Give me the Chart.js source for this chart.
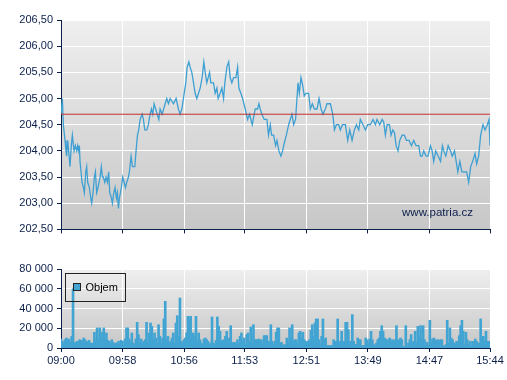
<!DOCTYPE html>
<html>
<head>
<meta charset="utf-8">
<script src="https://cdn.jsdelivr.net/npm/chart.js@4.4.1/dist/chart.umd.min.js"></script>
<style>
    body { margin: 0; background: #ffffff; }
    #wrap { position: relative; width: 507px; height: 380px; }
    .box { position: absolute; left: 0; width: 507px; }
</style>
</head>
<body>
<div id="wrap">
    <div class="box" style="top:0;height:240px"><canvas id="priceChart"></canvas></div>
    <div class="box" style="top:255px;height:125px"><canvas id="volChart"></canvas></div>
</div>
<script>
// x axis labels (times of day), price in CZK, volume in pieces
const timeLabels = ['09:00', '09:58', '10:56', '11:53', '12:51', '13:49', '14:47', '15:44'];
const prevClose = 204.70;

// minutes after 09:00
const priceTimes = [
    0, 1.3, 2.2, 3.8, 4.7, 5.3, 6.3, 7.2, 8.5, 9.7, 10.7, 12.3, 13.5, 14.8, 15.7, 16.7, 17.3, 17.9, 18.9, 19.8,
    21.1, 22.0, 23.3, 24.2, 25.1, 26.7, 28.0, 28.9, 30.2, 31.4, 32.4, 33.6, 34.9, 35.8, 36.8, 38.0, 39.0, 39.9, 41.2, 42.4,
    43.7, 44.9, 45.9, 47.5, 48.4, 49.7, 50.9, 52.2, 53.1, 54.1, 55.0, 56.9, 58.1, 59.4, 60.7, 61.9, 63.5, 64.4, 66.0, 67.3,
    69.5, 70.7, 72.0, 73.2, 74.5, 76.4, 77.6, 78.9, 80.8, 82.3, 83.9, 85.2, 86.4, 87.7, 92.1, 93.3, 95.2, 98.1, 99.6, 101.2,
    102.8, 105.9, 108.4, 110.6, 112.2, 113.8, 116.0, 117.5, 118.8, 120.4, 121.6, 123.2, 124.8, 126.3, 127.9, 129.5, 131.1, 132.9, 134.5, 135.8,
    137.3, 139.9, 141.1, 143.6, 145.2, 146.8, 148.0, 149.9, 151.5, 153.1, 154.3, 156.2, 157.9, 159.3, 160.9, 162.5, 164.7, 166.3, 167.5, 169.4,
    171.0, 173.5, 175.7, 177.6, 180.1, 182.9, 185.1, 186.4, 187.6, 189.2, 191.4, 193.9, 195.4, 197.1, 198.3, 200.2, 202.1, 203.4, 205.2, 207.1,
    208.7, 210.3, 212.2, 214.4, 215.9, 217.5, 219.1, 220.9, 222.2, 223.2, 224.4, 226.0, 227.6, 229.1, 230.7, 233.2, 234.8, 236.7, 238.6, 241.1,
    243.0, 244.9, 246.7, 248.9, 250.5, 253.7, 255.9, 257.5, 259.3, 261.5, 263.1, 265.0, 267.8, 270.0, 271.9, 274.1, 276.3, 278.2, 280.4, 281.9,
    284.4, 286.7, 288.8, 291.4, 293.9, 296.1, 297.6, 300.2, 302.4, 303.9, 305.5, 307.1, 309.3, 310.8, 312.4, 314.0, 315.6, 317.4, 319.0, 321.2,
    323.4, 325.3, 327.8, 330.0, 332.2, 334.4, 336.9, 338.5, 340.1, 341.6, 343.8, 345.7, 347.9, 349.5, 351.0, 352.9, 355.1, 357.4, 359.2, 360.5,
    362.4, 364.6, 366.8, 368.4, 370.6, 372.5, 373.7, 375.6, 377.5, 379.5, 382.0, 383.9, 385.8, 387.7, 389.9, 391.4, 393.3, 395.2, 397.4, 399.3,
    401.5, 403.1, 404.0
];
const priceValues = [
    204.7, 205.0, 204.5, 204.2, 204.0, 203.9, 204.2, 204.0, 203.7, 204.1, 204.3, 204.0, 204.1, 204.0, 204.1, 204.0, 204.1, 203.8, 203.6, 203.4,
    203.3, 203.2, 203.6, 203.7, 203.4, 203.3, 203.1, 203.0, 203.2, 203.5, 203.6, 203.2, 203.3, 203.4, 203.5, 203.7, 203.5, 203.5, 203.4, 203.5,
    203.4, 203.6, 203.2, 203.1, 203.0, 203.2, 203.3, 203.1, 203.2, 202.9, 203.1, 203.3, 203.5, 203.4, 203.3, 203.4, 203.5, 203.6, 203.9, 203.7,
    203.7, 204.0, 204.3, 204.4, 204.6, 204.7, 204.6, 204.4, 204.4, 204.5, 204.7, 204.8, 204.7, 204.9, 204.6, 204.8, 204.7, 204.9, 205.0, 204.9,
    205.0, 204.9, 205.0, 204.8, 204.7, 204.8, 205.1, 205.3, 205.6, 205.7, 205.6, 205.5, 205.3, 205.1, 205.0, 205.1, 205.2, 205.4, 205.7, 205.5,
    205.3, 205.5, 205.3, 205.3, 205.1, 205.2, 205.0, 205.1, 205.2, 205.0, 205.3, 205.6, 205.7, 205.4, 205.3, 205.4, 205.4, 205.6, 205.2, 205.1,
    205.0, 204.8, 204.6, 204.7, 204.5, 204.8, 204.8, 204.9, 204.8, 204.7, 204.6, 204.6, 204.3, 204.5, 204.3, 204.3, 204.1, 204.2, 204.0, 203.9,
    204.0, 204.15, 204.3, 204.5, 204.6, 204.7, 204.5, 204.6, 205.0, 205.3, 205.1, 205.4, 205.25, 205.05, 205.1, 205.1, 204.8, 204.9, 204.8, 204.8,
    205.0, 204.8, 204.7, 204.8, 204.9, 204.9, 204.7, 204.4, 204.5, 204.5, 204.4, 204.5, 204.5, 204.2, 204.4, 204.2, 204.4, 204.5, 204.4, 204.6,
    204.5, 204.4, 204.5, 204.5, 204.6, 204.5, 204.6, 204.5, 204.6, 204.55, 204.3, 204.5, 204.5, 204.3, 204.4, 204.35, 204.1, 204.0, 204.2, 204.3,
    204.3, 204.2, 204.2, 204.1, 204.2, 204.1, 204.1, 203.9, 203.9, 204.0, 203.9, 203.9, 204.1, 204.0, 203.8, 204.0, 203.9, 203.8, 204.1, 204.0,
    203.9, 204.1, 204.0, 203.9, 204.0, 203.75, 203.6, 203.8, 203.6, 203.6, 203.6, 203.4, 203.7, 203.8, 203.95, 203.75, 203.9, 204.3, 204.5, 204.4,
    204.5, 204.6, 204.1
];

// one bar per ~1.25 minutes, first bar at 09:00, last at 15:44
const volumes = [
    9100, 6800, 5100, 8400, 10100, 7800, 9100, 5700, 11800, 60000,
    5700, 5100, 6800, 6800, 8400, 6800, 7800, 10100, 8400, 6800,
    5700, 7800, 5100, 4400, 5100, 15900, 8400, 20300, 9100, 20300,
    8400, 15900, 20300, 8400, 15200, 7800, 6800, 5100, 8400, 5700,
    3400, 5100, 4400, 6800, 3400, 7800, 6800, 3400, 9100, 20300,
    20300, 9100, 5100, 15200, 5100, 3400, 9100, 26000, 13500, 5700,
    9100, 5100, 6800, 8400, 26000, 5100, 15200, 25300, 21900, 8400,
    15200, 10100, 5100, 23600, 11800, 5100, 10100, 29400, 47300, 9100,
    11800, 5100, 6800, 10100, 15200, 5100, 25300, 32700, 11800, 50600,
    6800, 5100, 8400, 10100, 15200, 32100, 29400, 32100, 8400, 15200,
    11800, 32100, 6800, 15200, 8400, 5100,
    3400, 9100, 10100, 8400, 6800, 3400, 5100, 31400, 5100, 3400,
    7800, 31400, 21900, 16900, 6800, 7800, 8400, 11800, 16900, 3400,
    10100, 22600, 5700, 5100, 5700, 3400, 8400, 5100, 11800, 15200,
    6800, 10100, 3400, 13500, 15200, 6800, 21300, 5100, 23600, 8400,
    8400, 8400, 9100, 7800, 8400, 3400, 12500, 12500, 12500, 6800,
    6800, 23600, 6800, 3400, 6800, 15900, 20300, 20300, 5100, 5700,
    3400, 2400, 3400, 10100, 5100, 20300, 10100, 23600, 6800, 8400,
    8400, 5100, 15200, 16900, 10100, 15900, 8400, 6800, 5100, 6800,
    8400, 17900, 23600, 11800, 25300, 29400, 29400, 8400, 3400, 11800,
    29400, 8400, 10100, 2400, 2400, 2400, 2400, 2400, 8400, 5100,
    6800, 29400, 5700, 6800, 16900, 6800, 6800,
    26000, 26000, 18600, 6800, 6800, 33800, 6800, 3400, 3400, 10100,
    8400, 8400, 2400, 2400, 2400, 10100, 8400, 5100, 9100, 16900,
    8400, 3400, 1700, 5100, 8400, 10100, 16900, 22600, 16900, 10100,
    9100, 3400, 8400, 10100, 6800, 8400, 6800, 8400, 22600, 8400,
    7800, 10100, 8400, 1700, 1000, 22600, 1700, 5100, 8400, 13500,
    5100, 6800, 16900, 5700, 21900, 11800, 22600, 8400, 22600, 8400,
    2400, 5700, 2400, 28000, 5100, 9100, 10100, 8400, 7800, 8400,
    6800, 8400, 8400, 2400, 1700, 3400, 28000, 5100, 20300, 10100,
    8400, 5100, 4400, 6800, 5100, 12500, 22600, 28000, 16900, 3400,
    15900, 8400, 3400, 6800, 1700, 6800, 2400, 9100, 6800, 2400,
    5100, 29400, 6800, 11800, 6800, 16900, 6800, 6800, 5100
];

function toMinutes (label) {
    var parts = label.split(':');
    return (parseInt(parts[0], 10) - 9) * 60 + parseInt(parts[1], 10);
}

const tickMinutes = timeLabels.map(toMinutes);
const lastMinute = tickMinutes[tickMinutes.length - 1];
const navy = '#0b1f4b';
const axisFont = { family: '"Liberation Sans", Arial, sans-serif', size: 11 };

// grey gradient behind the plot area
const plotBackground = {
    id: 'plotBackground',
    beforeDraw(chart) {
        const a = chart.chartArea;
        const ctx = chart.ctx;
        const g = ctx.createLinearGradient(0, a.top, 0, a.bottom);
        g.addColorStop(0, '#efefef');
        g.addColorStop(1, '#c7c7c7');
        ctx.save();
        ctx.fillStyle = g;
        ctx.fillRect(a.left, a.top, a.right - a.left, a.bottom - a.top);
        ctx.restore();
    }
};

const watermark = {
    id: 'watermark',
    beforeDatasetsDraw(chart) {
        const a = chart.chartArea;
        const ctx = chart.ctx;
        ctx.save();
        ctx.font = '11.5px "Liberation Sans", Arial, sans-serif';
        ctx.fillStyle = navy;
        ctx.textAlign = 'right';
        ctx.textBaseline = 'middle';
        ctx.fillText('www.patria.cz', a.right - 17, a.bottom - 17);
        ctx.restore();
    }
};

const boxLegend = {
    id: 'boxLegend',
    afterDraw(chart) {
        const a = chart.chartArea;
        const ctx = chart.ctx;
        const ds = chart.data.datasets[0];
        const x = a.left + 4.5;
        const y = a.top + 4.5;
        ctx.save();
        ctx.strokeStyle = '#222222';
        ctx.lineWidth = 1;
        ctx.strokeRect(x, y, 60, 28);
        ctx.fillStyle = ds.backgroundColor;
        ctx.fillRect(x + 8, y + 10, 7, 7);
        ctx.strokeRect(x + 8, y + 10, 7, 7);
        ctx.fillStyle = '#000000';
        ctx.font = '11px "Liberation Sans", Arial, sans-serif';
        ctx.textBaseline = 'middle';
        ctx.fillText(ds.label, x + 20, y + 14);
        ctx.restore();
    }
};

function timeAxis (showLabels) {
    return {
        type: 'linear',
        min: 0,
        max: lastMinute,
        offset: false,
        afterBuildTicks: function (s) {
            s.ticks = tickMinutes.map(v => ({ value: v }));
        },
        afterFit: function (s) {
            s.height = showLabels ? 32 : 10;
        },
        grid: { offset: false, color: '#ffffff', lineWidth: 1, tickColor: navy, tickLength: 4 },
        border: { color: navy, width: 1 },
        ticks: {
            display: showLabels,
            color: navy,
            font: axisFont,
            padding: 2,
            maxRotation: 0,
            autoSkip: false,
            callback: (v, i) => timeLabels[i]
        }
    };
}

function valueAxis (min, max, step, format) {
    return {
        min: min,
        max: max,
        afterFit: function (s) {
            s.width = 61;
        },
        grid: { color: '#ffffff', lineWidth: 1, tickColor: navy, tickLength: 4 },
        border: { color: navy, width: 1 },
        ticks: { stepSize: step, color: navy, font: axisFont, padding: 4, callback: format }
    };
}

function graficoCena () {
    const ctx = document.getElementById('priceChart');
    new Chart(ctx, {
        type: 'line',
        data: {
            datasets: [{
                label: 'Cena',
                data: priceTimes.map((t, i) => ({ x: t, y: priceValues[i] })),
                borderColor: '#3ea0d2',
                borderWidth: 1.3,
                pointRadius: 0,
                tension: 0,
                fill: false,
                order: 2
            }, {
                label: 'Předchozí závěr',
                data: [{ x: 0, y: prevClose }, { x: lastMinute, y: prevClose }],
                borderColor: '#c0302b',
                borderWidth: 1,
                pointRadius: 0,
                fill: false,
                order: 1
            }]
        },
        options: {
            responsive: true,
            maintainAspectRatio: false,
            animation: false,
            layout: { padding: { top: 20, right: 17, bottom: 0, left: 0 } },
            plugins: { legend: { display: false }, tooltip: { enabled: false } },
            scales: {
                x: timeAxis(false),
                y: valueAxis(202.5, 206.5, 0.5, v => v.toFixed(2).replace('.', ','))
            }
        },
        plugins: [plotBackground, watermark]
    });
}

function graficoObjem () {
    const ctx = document.getElementById('volChart');
    const step = lastMinute / (volumes.length - 1);
    new Chart(ctx, {
        type: 'bar',
        data: {
            datasets: [{
                label: 'Objem',
                data: volumes.map((v, i) => ({ x: i * step, y: v })),
                backgroundColor: '#42a4d2',
                borderWidth: 0,
                barThickness: 2
            }]
        },
        options: {
            responsive: true,
            maintainAspectRatio: false,
            animation: false,
            layout: { padding: { top: 14, right: 17, bottom: 0, left: 0 } },
            plugins: { legend: { display: false }, tooltip: { enabled: false } },
            scales: {
                x: timeAxis(true),
                y: valueAxis(0, 80000, 20000, v => String(v).replace(/\B(?=(\d{3})+(?!\d))/g, ' '))
            }
        },
        plugins: [plotBackground, boxLegend]
    });
}

graficoCena();
graficoObjem();
</script>
</body>
</html>
